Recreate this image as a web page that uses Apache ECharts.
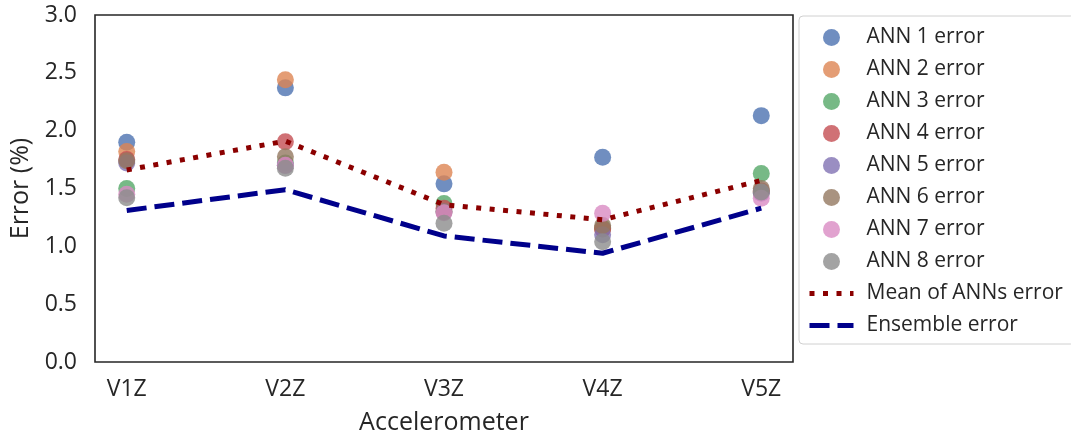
<!DOCTYPE html>
<html>
<head>
<meta charset="utf-8">
<script src="https://cdn.jsdelivr.net/npm/echarts@6/dist/echarts.min.js"></script>
<style>html,body{margin:0;padding:0;background:#fff}#c{width:1071px;height:436px}</style>
</head>
<body>
<div id="c"></div>
<script>
const categories = ['V1Z', 'V2Z', 'V3Z', 'V4Z', 'V5Z'];
const ann1 = [1.90, 2.37, 1.54, 1.77, 2.13];
const ann2 = [1.82, 2.44, 1.64, 1.15, 1.47];
const ann3 = [1.50, 1.72, 1.37, 1.16, 1.63];
const ann4 = [1.75, 1.905, 1.33, 1.15, 1.48];
const ann5 = [1.72, 1.70, 1.30, 1.10, 1.46];
const ann6 = [1.74, 1.775, 1.30, 1.18, 1.50];
const ann7 = [1.45, 1.70, 1.29, 1.285, 1.415];
const ann8 = [1.42, 1.675, 1.20, 1.04, 1.47];
const meanErr = [1.66, 1.91, 1.36, 1.23, 1.57];
const ensembleErr = [1.31, 1.49, 1.09, 0.94, 1.33];
const yTicks = [0, 0.5, 1.0, 1.5, 2.0, 2.5, 3.0];

const annNames = ['ANN 1 error','ANN 2 error','ANN 3 error','ANN 4 error','ANN 5 error','ANN 6 error','ANN 7 error','ANN 8 error'];
const annData = [ann1, ann2, ann3, ann4, ann5, ann6, ann7, ann8];
const annColors = ['#4C72B0','#DD8452','#55A868','#C44E52','#8172B3','#937860','#DA8BC3','#8C8C8C'];

const FONT = 'Open Sans';
const TXT = '#262626';
const MEAN_COLOR = '#8B0000';
const ENS_COLOR = '#00008B';
const MEAN_DASH = [5, 8.5];
const ENS_DASH = [20, 8];
const toXY = arr => arr.map((v, i) => [i, v]);

const series = annData.map((arr, k) => ({
  name: annNames[k],
  type: 'scatter',
  data: toXY(arr),
  symbol: 'circle',
  symbolSize: 17,
  z: 2,
  itemStyle: { color: annColors[k], opacity: 0.8 },
  emphasis: { disabled: true }
}));
series.push({
  name: 'Mean of ANNs error',
  type: 'line',
  data: toXY(meanErr),
  symbol: 'none',
  z: 3,
  itemStyle: { color: MEAN_COLOR },
  lineStyle: { color: MEAN_COLOR, width: 5, type: MEAN_DASH, cap: 'butt' }
});
series.push({
  name: 'Ensemble error',
  type: 'line',
  data: toXY(ensembleErr),
  symbol: 'none',
  z: 3,
  itemStyle: { color: ENS_COLOR },
  lineStyle: { color: ENS_COLOR, width: 5, type: ENS_DASH, cap: 'butt' }
});

const chart = echarts.init(document.getElementById('c'), null, { renderer: 'canvas' });
chart.setOption({
  animation: false,
  backgroundColor: '#ffffff',
  textStyle: { fontFamily: FONT, color: TXT },
  grid: {
    left: 95, top: 15, right: 278, bottom: 74,
    outerBoundsMode: 'none', containLabel: false,
    show: true, borderColor: '#262626', borderWidth: 1.6, backgroundColor: 'transparent'
  },
  legend: {
    orient: 'vertical',
    left: 799, top: 16,
    itemWidth: 44, itemHeight: 17, itemGap: 11,
    padding: [11, 12, 8, 8],
    backgroundColor: '#ffffff',
    borderColor: '#d0d0d0', borderWidth: 1, borderRadius: 4,
    textStyle: { fontFamily: FONT, fontSize: 21, color: TXT, padding: [0, 0, 0, 8] },
    data: annNames.map(n => ({ name: n, icon: 'circle' })).concat([
      { name: 'Mean of ANNs error', itemStyle: { opacity: 0 },
        lineStyle: { color: MEAN_COLOR, width: 5, type: MEAN_DASH, cap: 'butt', opacity: 1 } },
      { name: 'Ensemble error', itemStyle: { opacity: 0 },
        lineStyle: { color: ENS_COLOR, width: 5, type: ENS_DASH, cap: 'butt', opacity: 1 } }
    ])
  },
  xAxis: {
    type: 'value', min: -0.2, max: 4.2,
    name: 'Accelerometer', nameLocation: 'middle', nameGap: 48,
    nameTextStyle: { fontFamily: FONT, fontSize: 25, color: TXT },
    axisLine: { show: false }, axisTick: { show: false }, splitLine: { show: false },
    axisLabel: {
      customValues: [0, 1, 2, 3, 4],
      formatter: v => categories[Math.round(v)],
      fontFamily: FONT, fontSize: 23, color: TXT, margin: 16
    }
  },
  yAxis: {
    type: 'value', min: 0, max: 3, interval: 0.5,
    name: 'Error (%)', nameLocation: 'middle', nameGap: 61, nameRotate: 90,
    nameTextStyle: { fontFamily: FONT, fontSize: 25, color: TXT },
    axisLine: { show: false }, axisTick: { show: false }, splitLine: { show: false },
    axisLabel: {
      customValues: yTicks,
      formatter: v => v.toFixed(1),
      fontFamily: FONT, fontSize: 23, color: TXT, margin: 18
    }
  },
  series: series
});
</script>
</body>
</html>
